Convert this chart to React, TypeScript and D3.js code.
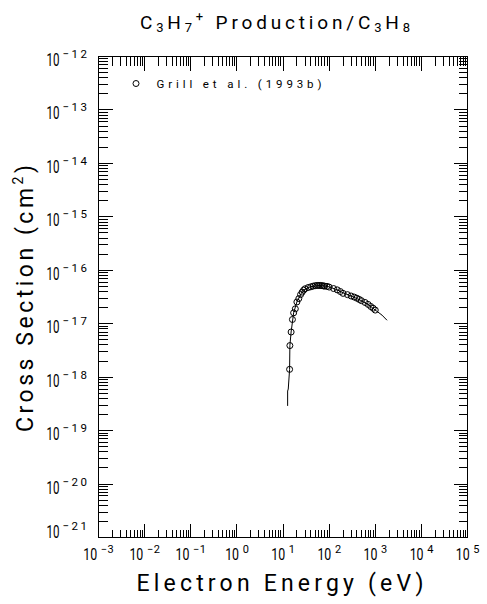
import * as d3 from "d3";

const W = 487;
const H = 604;

// decades shown on each axis
const xDecades = [-3, -2, -1, 0, 1, 2, 3, 4, 5];
const yDecades = [-21, -20, -19, -18, -17, -16, -15, -14, -13, -12];

// Grill et al. (1993b) measured points
const grillEnergy = [
  13.9, 14.1, 15, 16, 17, 18.5, 20, 22, 24, 26, 28, 30, 35, 40, 45, 50, 55, 60,
  65, 70, 75, 80, 90, 100, 125, 150, 175, 200, 250, 300, 350, 400, 450, 500,
  600, 700, 800, 900, 1000,
];
const grillSigma = [
  1.4e-18, 3.9e-18, 7e-18, 1.2e-17, 1.6e-17, 1.9e-17, 2.55e-17, 2.95e-17,
  3.5e-17, 3.9e-17, 4.25e-17, 4.5e-17, 4.75e-17, 4.9e-17, 5.05e-17, 5.15e-17,
  5.2e-17, 5.2e-17, 5.2e-17, 5.15e-17, 5.1e-17, 5.05e-17, 5.0e-17, 4.85e-17,
  4.55e-17, 4.3e-17, 4.0e-17, 3.7e-17, 3.5e-17, 3.3e-17, 3.15e-17, 3.0e-17,
  2.85e-17, 2.7e-17, 2.5e-17, 2.3e-17, 2.1e-17, 1.95e-17, 1.8e-17,
];

// recommended curve
const fitEnergy = [
  12.6, 12.6, 13.0, 13.9, 14.1, 15, 17, 20, 25, 30, 40, 60, 80, 100, 150, 200,
  300, 500, 700, 1000, 1400, 1800,
];
const fitSigma = [
  2.9e-19, 5.5e-19, 6e-19, 1.4e-18, 3.9e-18, 7e-18, 1.6e-17, 2.55e-17, 3.7e-17,
  4.45e-17, 4.95e-17, 5.2e-17, 5.1e-17, 4.9e-17, 4.3e-17, 3.8e-17, 3.3e-17,
  2.7e-17, 2.3e-17, 1.8e-17, 1.45e-17, 1.16e-17,
];

const FONT = "Roboto, 'DejaVu Sans', sans-serif";

function supText(e: number) {
  return e < 0 ? "\u2212" + Math.abs(e) : String(e);
}

export default function App() {
  const left = 98.5, right = 467.5, top = 56.5, bottom = 537.5;
  const x = d3.scaleLog().domain([1e-3, 1e5]).range([left, right]);
  const y = d3.scaleLog().domain([1e-21, 1e-12]).range([bottom, top]);

  const xTicks: { v: number; major: boolean }[] = [];
  xDecades.slice(0, -1).forEach((d) => {
    for (let m = 1; m <= 9; m++) xTicks.push({ v: m * Math.pow(10, d), major: m === 1 });
  });
  xTicks.push({ v: 1e5, major: true });

  const yTicks: { v: number; major: boolean }[] = [];
  yDecades.slice(0, -1).forEach((d) => {
    for (let m = 1; m <= 9; m++) yTicks.push({ v: m * Math.pow(10, d), major: m === 1 });
  });
  yTicks.push({ v: 1e-12, major: true });

  const minorLen = 9;
  const majorLen = 14;

  const line = d3
    .line<number>()
    .x((_, i) => x(fitEnergy[i]))
    .y((d) => y(d));

  return (
    <svg
      width={W}
      height={H}
      style={{ position: "absolute", left: 0, top: 0, background: "#fff" }}
      fontFamily={FONT}
      fontWeight={400}
      fill="#000"
    >
      <rect width={W} height={H} fill="#fff" />
      {/* title */}
      <text x={140} y={29} fontSize={19} textLength={270} lengthAdjust="spacing">
        C<tspan fontSize={13} dy={3}>3</tspan>
        <tspan dy={-3}>H</tspan>
        <tspan fontSize={13} dy={3}>7</tspan>
        <tspan fontSize={13} dy={-11}>+</tspan>
        <tspan dy={8}> Production/C</tspan>
        <tspan fontSize={13} dy={3}>3</tspan>
        <tspan dy={-3}>H</tspan>
        <tspan fontSize={13} dy={3}>8</tspan>
      </text>

      {/* frame */}
      <g stroke="#000" strokeWidth={1} shapeRendering="crispEdges" fill="none">
        <rect x={left} y={top} width={right - left} height={bottom - top} />
        {xTicks.map((t, i) => {
          const len = t.major ? majorLen : minorLen;
          const px = Math.round(x(t.v) - 0.5) + 0.5;
          return (
            <g key={"x" + i}>
              <line x1={px} x2={px} y1={bottom} y2={bottom - (t.major ? majorLen : 8)} />
              <line x1={px} x2={px} y1={top} y2={top + len} />
            </g>
          );
        })}
        {yTicks.map((t, i) => {
          const len = t.major ? majorLen : minorLen;
          const py = Math.round(y(t.v) - 0.5) + 0.5;
          return (
            <g key={"y" + i}>
              <line x1={left} x2={left + len} y1={py} y2={py} />
              <line x1={right} x2={right - len} y1={py} y2={py} />
            </g>
          );
        })}
      </g>

      {/* x tick labels */}
      {xDecades.map((d) => {
        const supW = d < 0 ? 13 : 6;
        const total = 14 + 3.5 + supW;
        const x0 = x(Math.pow(10, d)) - total / 2;
        return (
          <g key={"xl" + d}>
            <text transform={`translate(${x0},559.5) scale(0.75,1)`} fontSize={16.5}>
              10
            </text>
            <text x={x0 + 17.5} y={552.5} fontSize={11} textLength={supW} lengthAdjust="spacing">
              {supText(d)}
            </text>
          </g>
        );
      })}

      {/* y tick labels */}
      {yDecades.map((d) => {
        const ty = y(Math.pow(10, d));
        const base = d === -21 ? ty : ty + 9.5;
        return (
          <g key={"yl" + d}>
            <text transform={`translate(46.5,${base}) scale(0.66,1)`} fontSize={17.5}>
              10
            </text>
            <text x={62.5} y={base - 8} fontSize={11.5} textLength={24.5} lengthAdjust="spacing">
              {supText(d)}
            </text>
          </g>
        );
      })}

      {/* axis titles */}
      <text x={136.5} y={591} fontSize={23} textLength={287} lengthAdjust="spacing">
        Electron Energy (eV)
      </text>
      <text
        transform="translate(33,432) rotate(-90)"
        fontSize={23}
        textLength={267}
        lengthAdjust="spacing"
      >
        Cross Section (cm<tspan fontSize={14} dy={-10}>2</tspan>
        <tspan dy={10}>)</tspan>
      </text>

      {/* legend */}
      <circle cx={136} cy={83.5} r={3} fill="none" stroke="#000" strokeWidth={1} />
      <text x={156.5} y={87.5} fontSize={11.5} textLength={165} lengthAdjust="spacing">
        Grill et al. (1993b)
      </text>

      {/* curve */}
      <path d={line(fitSigma) || ""} fill="none" stroke="#000" strokeWidth={1} />

      {/* data */}
      {grillEnergy.map((e, i) => (
        <circle
          key={"p" + i}
          cx={x(e)}
          cy={y(grillSigma[i])}
          r={3}
          fill="none"
          stroke="#000"
          strokeWidth={1}
        />
      ))}
    </svg>
  );
}
